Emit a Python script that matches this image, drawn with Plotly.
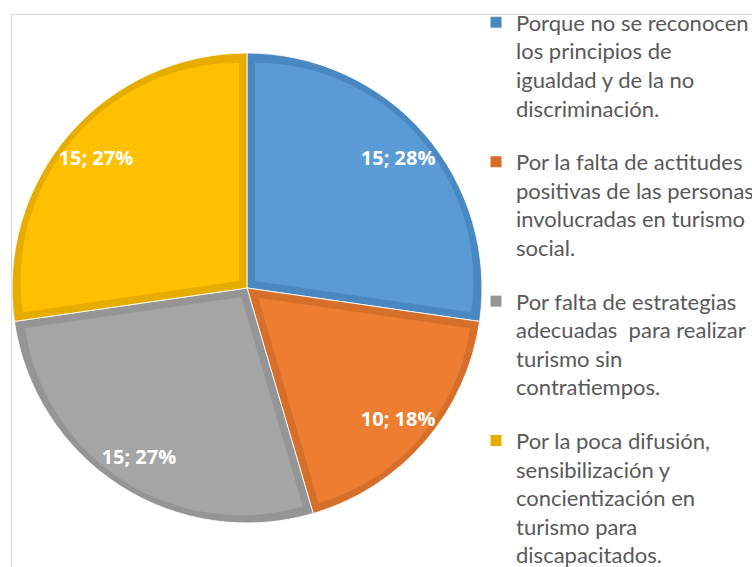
import math
import plotly.graph_objects as go

# ---------------- data ----------------
categories = [
    "Porque no se reconocen<br>los principios de<br>igualdad y de la no<br>discriminación.",
    "Por la falta de actitudes<br>positivas de las personas<br>involucradas en turismo<br>social.",
    "Por falta de estrategias<br>adecuadas  para realizar<br>turismo sin<br>contratiempos.",
    "Por la poca difusión,<br>sensibilización y<br>concientización en<br>turismo para<br>discapacitados.",
]
counts = [15, 10, 15, 15]
percent_labels = ["28%", "18%", "27%", "27%"]

# ---------------- style ----------------
fill_colors = ["#5B9BD5", "#ED7D31", "#A5A5A5", "#FFC000"]
edge_colors = ["#4A88C2", "#D66F2A", "#959595", "#E6AD00"]
W, H = 752, 567
CX, CY, R = 247, 288, 235
BAND = 8


def dom(cx, cy, r):
    return dict(x=[(cx - r) / W, (cx + r) / W], y=[(H - cy - r) / H, (H - cy + r) / H])


fig = go.Figure()

# layer 1: full pie in the darker edge colours (gives the outline band)
fig.add_trace(go.Pie(
    values=counts, labels=[f"s{i}" for i in range(len(counts))],
    marker=dict(colors=edge_colors, line=dict(color="rgba(255,255,255,0.85)", width=1)),
    sort=False, direction="clockwise", rotation=0,
    domain=dom(CX, CY, R), textinfo="none", hoverinfo="skip", showlegend=False,
))

# layer 2: each slice in its light colour, inset by pulling a smaller slice
total = sum(counts)
cum = 0
for i, v in enumerate(counts):
    half = math.pi * v / total
    d = BAND / math.sin(half)
    rp = R - BAND - d + 2
    p = d / rp
    fig.add_trace(go.Pie(
        values=[v, total - v], labels=[f"a{i}", f"b{i}"],
        marker=dict(colors=[fill_colors[i], "rgba(0,0,0,0)"], line=dict(width=0)),
        pull=[p, 0], sort=False, direction="clockwise",
        rotation=360 * cum / total,
        domain=dom(CX, CY, rp + d), textinfo="none", hoverinfo="skip", showlegend=False,
    ))
    cum += v

# layer 3: transparent ring carrying the data labels
R2 = 242
fig.add_trace(go.Pie(
    values=counts, labels=[f"t{i}" for i in range(len(counts))],
    text=[f"{c}; {p}" for c, p in zip(counts, percent_labels)],
    marker=dict(colors=["rgba(0,0,0,0)"] * len(counts), line=dict(width=0)),
    hole=1 - 2 * 42 / R2, sort=False, direction="clockwise", rotation=0,
    domain=dom(CX, CY, R2), textinfo="text", textposition="inside",
    insidetextorientation="horizontal",
    textfont=dict(color="white", size=20, family="Open Sans", weight="bold"),
    hoverinfo="skip", showlegend=False,
))

# legend entries
for i, name in enumerate(categories):
    fig.add_trace(go.Scatter(
        x=[None], y=[None], mode="markers", name=name,
        marker=dict(symbol="square", size=11, color=edge_colors[i]),
        legendgroup=f"g{i}", showlegend=True, hoverinfo="skip",
    ))

fig.update_layout(
    width=W, height=H,
    margin=dict(l=0, r=0, t=0, b=0, autoexpand=False),
    paper_bgcolor="white", plot_bgcolor="white",
    xaxis=dict(visible=False), yaxis=dict(visible=False),
    legend=dict(
        x=476 / W, y=1 - 1.5 / H, xanchor="left", yanchor="top",
        font=dict(family="Lato", size=22, color="#595959"),
        valign="top", traceorder="grouped", tracegroupgap=22,
        bgcolor="rgba(0,0,0,0)",
    ),
    shapes=[dict(
        type="rect", xref="paper", yref="paper",
        x0=11.5 / W, x1=1.2, y0=-0.2, y1=1 - 14.5 / H,
        line=dict(color="#D9D9D9", width=1), fillcolor="rgba(0,0,0,0)", layer="below",
    )],
)

fig.write_html("out.html", config={"displayModeBar": False},
               post_script="document.body.style.margin='0';")
